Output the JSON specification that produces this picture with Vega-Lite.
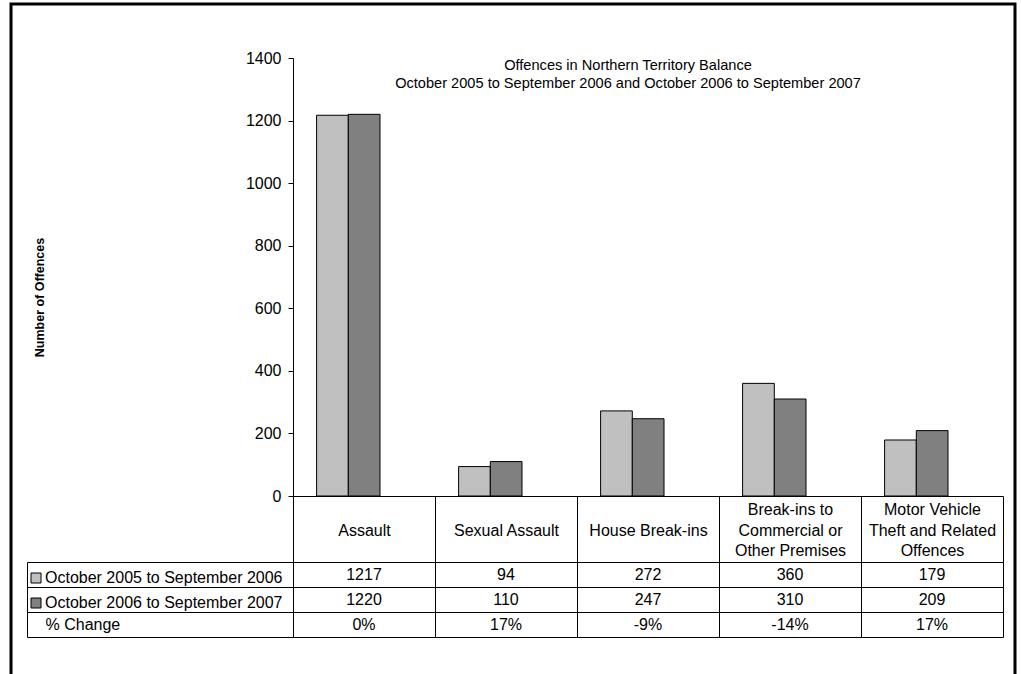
{
  "$schema": "https://vega.github.io/schema/vega-lite/v6.json",
  "width": 1004,
  "height": 673,
  "autosize": {"type": "none"},
  "padding": {"left": 11, "top": 4, "right": 6, "bottom": -3},
  "background": "white",
  "config": {
    "font": "Liberation Sans",
    "view": {"stroke": "#000", "strokeWidth": 3}
  },
  "title": {
    "text": ["Offences in Northern Territory Balance", "October 2005 to September 2006 and October 2006 to September 2007"],
    "fontSize": 14.6,
    "fontWeight": "normal",
    "color": "#000",
    "anchor": "middle",
    "frame": "group",
    "orient": "top",
    "offset": 0,
    "baseline": "top",
    "lineHeight": 18,
    "dx": 115,
    "dy": 95
  },
  "datasets": {
    "offences": [
      {"category": "Assault", "period": "October 2005 to September 2006", "count": 1217},
      {"category": "Assault", "period": "October 2006 to September 2007", "count": 1220},
      {"category": "Sexual Assault", "period": "October 2005 to September 2006", "count": 94},
      {"category": "Sexual Assault", "period": "October 2006 to September 2007", "count": 110},
      {"category": "House Break-ins", "period": "October 2005 to September 2006", "count": 272},
      {"category": "House Break-ins", "period": "October 2006 to September 2007", "count": 247},
      {"category": "Break-ins to Commercial or Other Premises", "period": "October 2005 to September 2006", "count": 360},
      {"category": "Break-ins to Commercial or Other Premises", "period": "October 2006 to September 2007", "count": 310},
      {"category": "Motor Vehicle Theft and Related Offences", "period": "October 2005 to September 2006", "count": 179},
      {"category": "Motor Vehicle Theft and Related Offences", "period": "October 2006 to September 2007", "count": 209}
    ],
    "change": [
      {"category": "Assault", "change": "0%"},
      {"category": "Sexual Assault", "change": "17%"},
      {"category": "House Break-ins", "change": "-9%"},
      {"category": "Break-ins to Commercial or Other Premises", "change": "-14%"},
      {"category": "Motor Vehicle Theft and Related Offences", "change": "17%"}
    ]
  },
  "layer": [
    {
      "data": {"name": "offences"},
      "mark": {"type": "bar", "stroke": "#000", "strokeWidth": 1},
      "encoding": {
        "x": {
          "field": "category", "type": "nominal", "sort": null,
          "scale": {
            "domain": ["Assault", "Sexual Assault", "House Break-ins", "Break-ins to Commercial or Other Premises", "Motor Vehicle Theft and Related Offences"],
            "range": [282, 992], "paddingInner": 0, "paddingOuter": 0
          },
          "axis": {
            "orient": "bottom", "offset": -181, "title": null,
            "domain": true, "domainColor": "#000", "domainWidth": 1,
            "ticks": true, "tickBand": "extent", "tickSize": 141, "tickColor": "#000", "tickWidth": 1,
            "labelExpr": "datum.value == 'Break-ins to Commercial or Other Premises' ? ['Break-ins to', 'Commercial or', 'Other Premises'] : datum.value == 'Motor Vehicle Theft and Related Offences' ? ['Motor Vehicle', 'Theft and Related', 'Offences'] : ['', datum.label]",
            "labelAngle": 0, "labelAlign": "center", "labelBaseline": "middle",
            "labelPadding": -127.5, "labelLineHeight": 20.5, "labelFontSize": 16, "labelColor": "#000",
            "labelLimit": 0, "labelOverlap": false, "labelFlush": false, "grid": false
          }
        },
        "xOffset": {
          "field": "period", "type": "nominal",
          "scale": {"domain": ["October 2005 to September 2006", "October 2006 to September 2007"], "range": [23.6, 87], "paddingInner": 0, "paddingOuter": 0}
        },
        "y": {
          "field": "count", "type": "quantitative",
          "scale": {"domain": [0, 1400], "range": [492, 54], "nice": false},
          "axis": {
            "orient": "left", "offset": -282,
            "values": [0, 200, 400, 600, 800, 1000, 1200, 1400], "format": "d",
            "domain": true, "domainColor": "#000", "domainWidth": 1,
            "ticks": true, "tickSize": 5, "tickColor": "#000", "tickWidth": 1,
            "labelFontSize": 16, "labelColor": "#000", "labelPadding": 7, "labelFlush": false, "labelOverlap": false,
            "grid": false,
            "title": "Number of Offences", "titleFontSize": 12.5, "titleFontWeight": "bold", "titleColor": "#000",
            "titleX": -254, "titleY": 293, "titleBaseline": "middle", "titleAngle": -90
          }
        },
        "color": {
          "field": "period", "type": "nominal",
          "scale": {"domain": ["October 2005 to September 2006", "October 2006 to September 2007"], "range": ["#c0c0c0", "#808080"]},
          "legend": {
            "orient": "none", "legendX": 17, "legendY": 566, "title": null,
            "symbolType": "square", "symbolSize": 100, "symbolStrokeColor": "#000", "symbolStrokeWidth": 1,
            "labelFontSize": 16, "labelColor": "#000", "labelOffset": 1, "rowPadding": 9, "padding": 0,
            "labelLimit": 0, "symbolOffset": 0
          }
        }
      }
    },
    {
      "layer": [
        {
          "data": {"name": "offences"},
          "mark": {"type": "text", "fontSize": 16, "color": "#000"},
          "encoding": {
            "x": {
              "field": "category", "type": "nominal", "sort": null,
              "scale": {"domain": ["Assault", "Sexual Assault", "House Break-ins", "Break-ins to Commercial or Other Premises", "Motor Vehicle Theft and Related Offences"]}
            },
            "y": {
              "field": "period", "type": "nominal",
              "scale": {"type": "band", "domain": ["October 2005 to September 2006", "October 2006 to September 2007", "% Change"], "range": [558, 633], "paddingInner": 0, "paddingOuter": 0},
              "axis": {
                "orient": "left", "offset": -16, "title": null,
                "domain": true, "domainColor": "#000", "domainWidth": 1,
                "ticks": true, "tickBand": "extent", "tickSize": -976, "tickColor": "#000", "tickWidth": 1,
                "labelExpr": "datum.value == '% Change' ? datum.label : ''",
                "labelAlign": "left", "labelBaseline": "middle", "labelPadding": 958,
                "labelFontSize": 16, "labelColor": "#000", "labelLimit": 0, "labelOverlap": false, "grid": false
              }
            },
            "text": {"field": "count", "type": "quantitative", "format": "d"}
          }
        },
        {
          "data": {"name": "change"},
          "mark": {"type": "text", "fontSize": 16, "color": "#000"},
          "encoding": {
            "x": {
              "field": "category", "type": "nominal", "sort": null,
              "scale": {"domain": ["Assault", "Sexual Assault", "House Break-ins", "Break-ins to Commercial or Other Premises", "Motor Vehicle Theft and Related Offences"]}
            },
            "y": {"datum": "% Change"},
            "text": {"field": "change", "type": "nominal"}
          }
        }
      ]
    }
  ],
  "resolve": {"scale": {"y": "independent"}, "axis": {"y": "independent"}}
}
